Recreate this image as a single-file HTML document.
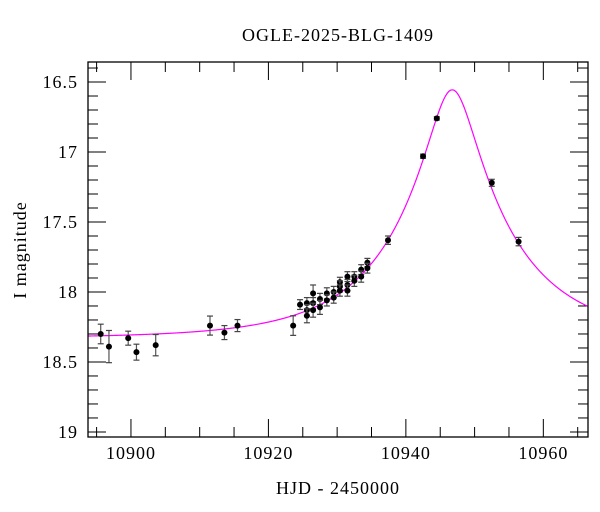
<!DOCTYPE html>
<html><head><meta charset="utf-8"><style>
html,body{margin:0;padding:0;background:#fff;}
svg{display:block;font-family:"Liberation Serif",serif;}
svg text{letter-spacing:1px;}
</style></head><body>
<svg id="chart" width="600" height="512" viewBox="0 0 600 512">
<rect x="0" y="0" width="600" height="512" fill="#fff"/>
<text x="338" y="41" font-size="18" text-anchor="middle">OGLE-2025-BLG-1409</text>
<text x="338" y="494" font-size="18" text-anchor="middle">HJD - 2450000</text>
<text transform="translate(26,250) rotate(-90)" font-size="18" text-anchor="middle">I magnitude</text>
<g id="ticks"></g>
<g id="model"></g>
<g id="points"></g>
<rect x="88" y="62" width="500" height="375" fill="none" stroke="#000" stroke-width="1.3"/>
</svg>
<script>
const times = [10895.6,10896.8,10899.6,10900.8,10903.6,10911.5,10913.6,10915.5,10923.6,
 10924.6,10925.6,10925.6,10925.6,10926.5,10926.5,10926.5,10927.5,10927.5,10928.5,10928.5,
 10929.5,10929.5,10930.4,10930.4,10930.4,10931.5,10931.5,10931.5,10932.5,10932.5,10933.5,10933.5,
 10934.4,10934.4,10937.4,10942.5,10944.5,10952.5,10956.4];
const mags = [18.30,18.39,18.33,18.43,18.38,18.24,18.29,18.24,18.24,
 18.09,18.08,18.13,18.17,18.01,18.08,18.13,18.05,18.11,18.01,18.06,
 18.00,18.04,17.93,17.96,17.99,17.89,17.95,17.99,17.89,17.92,17.84,17.89,
 17.79,17.83,17.63,17.03,16.76,17.22,17.64];
const errs = [0.07,0.115,0.05,0.057,0.076,0.068,0.05,0.043,0.07,
 0.035,0.04,0.04,0.05,0.06,0.04,0.05,0.04,0.05,0.04,0.04,
 0.04,0.04,0.035,0.04,0.04,0.035,0.04,0.04,0.035,0.04,0.035,0.04,
 0.03,0.035,0.03,0.015,0.012,0.025,0.03];
const modelParams = [10946.75, 0.198, 16.8, 18.33]; // t0, u0, tE, baseline mag
const xTickLabels = [10900,10920,10940,10960];
const yTickLabels = [16.5,17,17.5,18,18.5,19];

const NS="http://www.w3.org/2000/svg";
const X0=88,X1=588,Y0=62,Y1=437;
const tMin=10893.75, tMax=10966.5, mMin=16.357, mMax=19.036;
const xs=t=>X0+(t-tMin)/(tMax-tMin)*(X1-X0);
const ys=m=>Y0+(m-mMin)/(mMax-mMin)*(Y1-Y0);
function mk(tag,attrs,parent){const e=document.createElementNS(NS,tag);for(const k in attrs)e.setAttribute(k,attrs[k]);parent.appendChild(e);return e;}
const tg=document.getElementById('ticks');
for(let t=10895;t<=tMax;t+=5){
  const major=(t%20===0);const L=major?18:10;const x=xs(t);
  const a=mk('line',{x1:x,x2:x,y1:Y1,y2:Y1-L,stroke:'#000','stroke-width':1},tg);
  
  
  const b=mk('line',{x1:x,x2:x,y1:Y0,y2:Y0+L,stroke:'#000','stroke-width':1},tg);
  
  
}
xTickLabels.forEach(v=>{
  const e=mk('text',{x:xs(v),y:459,'font-size':18,'text-anchor':'middle'},tg);
  e.textContent=v;
  
  
});
for(let i=0;i<=30;i++){
  const m=16.4+i*0.1; if(m>mMax)break;
  const major=(Math.abs(m*2-Math.round(m*2))<1e-6);const L=major?18:10;const y=ys(m);
  const a=mk('line',{x1:X0,x2:X0+L,y1:y,y2:y,stroke:'#000','stroke-width':1},tg);
  
  
  const b=mk('line',{x1:X1,x2:X1-L,y1:y,y2:y,stroke:'#000','stroke-width':1},tg);
  
  
}
yTickLabels.forEach(v=>{
  const e=mk('text',{x:78,y:ys(v)+6,'font-size':18,'text-anchor':'end'},tg);
  e.textContent=v;
  
  
});
const [t0,u0,tE,mb]=modelParams;
let d='';
for(let t=tMin;t<=tMax;t+=0.1){
  const tau=(t-t0)/tE;const u=Math.sqrt(u0*u0+tau*tau);
  const A=(u*u+2)/(u*Math.sqrt(u*u+4));
  const m=mb-2.5*Math.log10(A);
  d+=(d?'L':'M')+xs(t).toFixed(2)+','+ys(m).toFixed(2);
}
const mg=document.getElementById('model');
const path=mk('path',{d:d,fill:'none',stroke:'#ff00ff','stroke-width':1.2},mg);


const pg=document.getElementById('points');
times.forEach((t,i)=>{
  const x=xs(t),y=ys(mags[i]),ya=ys(mags[i]-errs[i]),yb=ys(mags[i]+errs[i]);
  const g=mk('g',{},pg);
  
  
  mk('line',{x1:x,x2:x,y1:ya,y2:yb,stroke:'#555','stroke-width':1.2},g);
  mk('line',{x1:x-3,x2:x+3,y1:ya,y2:ya,stroke:'#444','stroke-width':1.2},g);
  mk('line',{x1:x-3,x2:x+3,y1:yb,y2:yb,stroke:'#444','stroke-width':1.2},g);
  mk('circle',{cx:x,cy:y,r:3,fill:'#000'},g);
});
</script>
</body></html>
